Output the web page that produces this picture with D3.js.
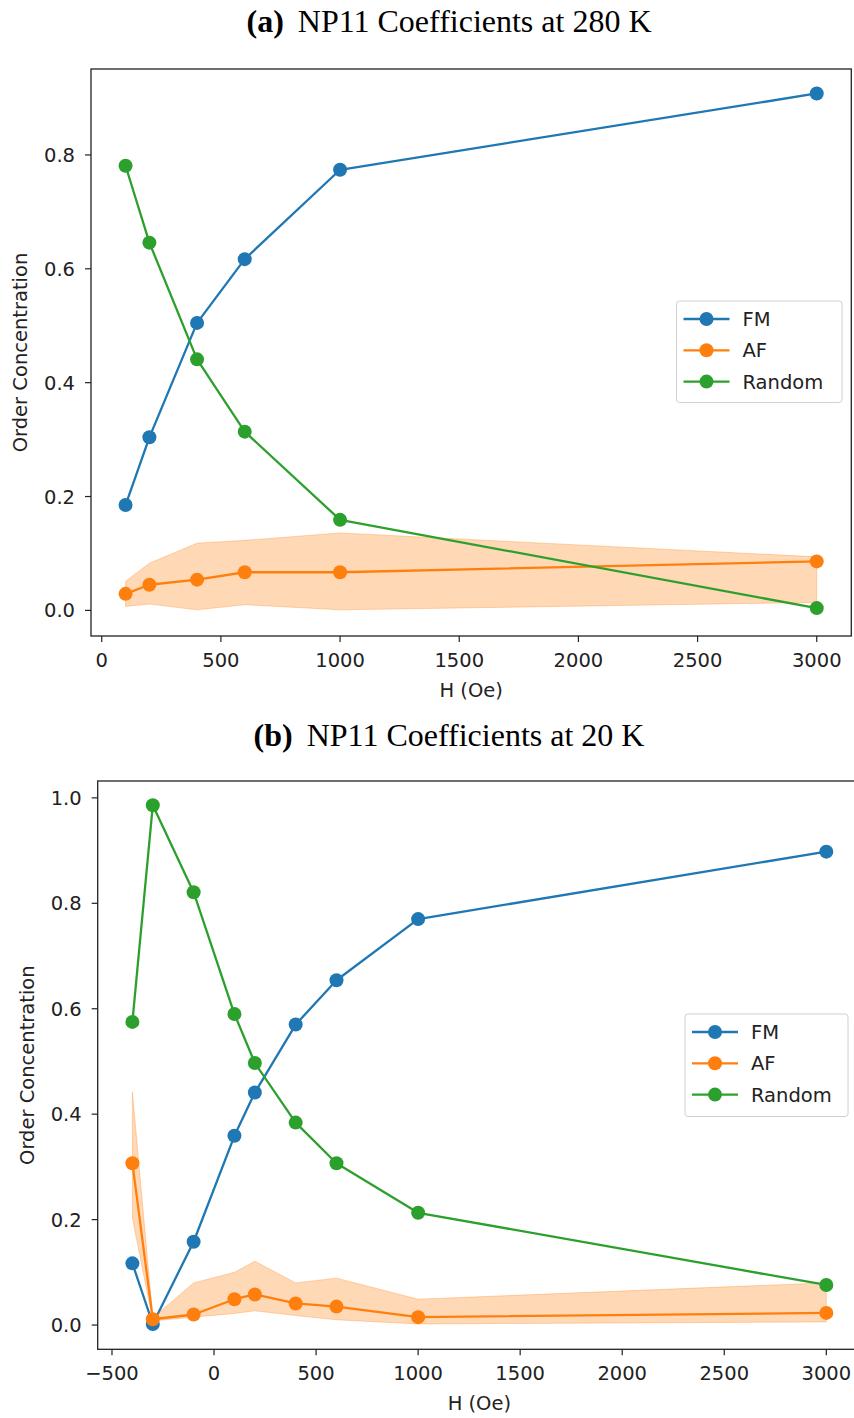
<!DOCTYPE html>
<html><head><meta charset="utf-8">
<script src="https://cdn.jsdelivr.net/npm/d3@7"></script>
<style>
html,body{margin:0;padding:0;background:#fff;}
svg{display:block;}
text{font-family:"DejaVu Sans",sans-serif;fill:#222;}
</style></head>
<body>
<svg id="chart" width="854" height="1418"></svg>
<script>
// ---- Data: panel (a) 280 K ----
const xA = [100, 200, 400, 600, 1000, 3000];
const fmA = [0.185, 0.304, 0.505, 0.617, 0.774, 0.908];
const afA = [0.029, 0.045, 0.054, 0.067, 0.067, 0.086];
const afLoA = [0.007, 0.011, 0.001, 0.010, 0.001, 0.014];
const afHiA = [0.051, 0.083, 0.118, 0.123, 0.136, 0.094];
const rndA = [0.781, 0.646, 0.441, 0.314, 0.159, 0.004];
const xTicksA = [0, 500, 1000, 1500, 2000, 2500, 3000];
const yTicksA = [0.0, 0.2, 0.4, 0.6, 0.8];

// ---- Data: panel (b) 20 K ----
const xB = [-400, -300, -100, 100, 200, 400, 600, 1000, 3000];
const fmB = [0.117, 0.002, 0.158, 0.359, 0.441, 0.570, 0.654, 0.770, 0.898];
const afB = [0.307, 0.011, 0.020, 0.049, 0.058, 0.041, 0.035, 0.015, 0.023];
const afLoB = [0.203, 0.008, 0.015, 0.022, 0.027, 0.018, 0.010, 0.002, 0.006];
const afHiB = [0.442, 0.014, 0.080, 0.100, 0.121, 0.080, 0.089, 0.049, 0.080];
const rndB = [0.575, 0.986, 0.821, 0.590, 0.497, 0.384, 0.307, 0.213, 0.076];
const xTicksB = [-500, 0, 500, 1000, 1500, 2000, 2500, 3000];
const yTicksB = [0.0, 0.2, 0.4, 0.6, 0.8, 1.0];

const seriesNames = ["FM", "AF", "Random"];
const colors = ["#1f77b4", "#ff7f0e", "#2ca02c"];
const FS = "19.5px";

const svg = d3.select("#chart");

function title(y, label, rest) {
  const t = svg.append("text")
    .attr("x", 449).attr("y", y)
    .attr("text-anchor", "middle")
    .style("font-family", "'Liberation Serif', 'Times New Roman', serif")
    .style("font-size", "32px").style("fill", "#000");
  t.append("tspan").style("font-weight", "bold").text(label);
  t.append("tspan").attr("dx", "14").text(rest);
}

function panel(cfg) {
  const {id, left, right, top, bottom, xDom, yDom, xs, fm, af, lo, hi, rnd, xTicks, yTicks, legend} = cfg;
  const x = d3.scaleLinear().domain(xDom).range([left, right]);
  const y = d3.scaleLinear().domain(yDom).range([bottom, top]);
  const g = svg.append("g");

  const clipId = "clip" + id;
  g.append("clipPath").attr("id", clipId).append("rect")
    .attr("x", left).attr("y", top).attr("width", right - left).attr("height", bottom - top);

  const plot = g.append("g").attr("clip-path", `url(#${clipId})`);
  const line = d3.line().x(d => x(d[0])).y(d => y(d[1]));

  function drawSeries(vals, color) {
    const pts = xs.map((v, i) => [v, vals[i]]);
    plot.append("path").datum(pts).attr("d", line)
      .attr("fill", "none").attr("stroke", color).attr("stroke-width", 2.3)
      .attr("stroke-linejoin", "round");
    plot.selectAll(null).data(pts).enter().append("circle")
      .attr("cx", d => x(d[0])).attr("cy", d => y(d[1])).attr("r", 7)
      .attr("fill", color);
  }

  drawSeries(fm, colors[0]);
  const area = d3.area().x((d, i) => x(xs[i])).y0((d, i) => y(lo[i])).y1((d, i) => y(hi[i]));
  plot.append("path").datum(xs).attr("d", area)
    .attr("fill", colors[1]).attr("fill-opacity", 0.3)
    .attr("stroke", colors[1]).attr("stroke-opacity", 0.3).attr("stroke-width", 1);
  drawSeries(af, colors[1]);
  drawSeries(rnd, colors[2]);

  // frame
  g.append("rect").attr("x", left).attr("y", top).attr("width", right - left).attr("height", bottom - top)
    .attr("stroke", "#222").attr("stroke-width", 1.3).attr("fill", "none");

  // x axis
  xTicks.forEach(t => {
    g.append("line").attr("x1", x(t)).attr("x2", x(t)).attr("y1", bottom).attr("y2", bottom + 6)
      .attr("stroke", "#222").attr("stroke-width", 1.2);
    g.append("text").attr("x", x(t)).attr("y", bottom + 31).attr("text-anchor", "middle")
      .style("font-size", FS).text(t < 0 ? "\u2212" + Math.abs(t) : String(t));
  });
  g.append("text").attr("x", (left + right) / 2).attr("y", bottom + 61)
    .attr("text-anchor", "middle").style("font-size", FS).text("H (Oe)");

  // y axis
  yTicks.forEach(t => {
    g.append("line").attr("x1", left - 6).attr("x2", left).attr("y1", y(t)).attr("y2", y(t))
      .attr("stroke", "#222").attr("stroke-width", 1.2);
    g.append("text").attr("x", left - 16).attr("y", y(t) + 7).attr("text-anchor", "end")
      .style("font-size", FS).text(t.toFixed(1));
  });
  g.append("text")
    .attr("transform", `translate(${left - 64},${(top + bottom) / 2}) rotate(-90)`)
    .attr("text-anchor", "middle").style("font-size", FS).text("Order Concentration");

  // legend
  const lg = g.append("g");
  lg.append("rect").attr("x", legend.x).attr("y", legend.y).attr("width", legend.w).attr("height", legend.h)
    .attr("rx", 3).attr("fill", "#fff").attr("fill-opacity", 0.8)
    .attr("stroke", "#d0d0d0").attr("stroke-width", 1);
  seriesNames.forEach((name, i) => {
    const yy = legend.y + 18 + i * 31.3;
    lg.append("line").attr("x1", legend.x + 7).attr("x2", legend.x + 53).attr("y1", yy).attr("y2", yy)
      .attr("stroke", colors[i]).attr("stroke-width", 2.3);
    lg.append("circle").attr("cx", legend.x + 30).attr("cy", yy).attr("r", 7).attr("fill", colors[i]);
    lg.append("text").attr("x", legend.x + 66).attr("y", yy + 7).style("font-size", FS).text(name);
  });
}

title(32, "(a)", "NP11 Coefficients at 280 K");
panel({id: "a", left: 91, right: 851.3, top: 69, bottom: 636,
  xDom: [-45, 3145], yDom: [-0.045, 0.951],
  xs: xA, fm: fmA, af: afA, lo: afLoA, hi: afHiA, rnd: rndA,
  xTicks: xTicksA, yTicks: yTicksA,
  legend: {x: 676.5, y: 301, w: 165.5, h: 101.5}});

title(746, "(b)", "NP11 Coefficients at 20 K");
panel({id: "b", left: 97.7, right: 861, top: 781, bottom: 1349.3,
  xDom: [-570, 3170], yDom: [-0.046, 1.032],
  xs: xB, fm: fmB, af: afB, lo: afLoB, hi: afHiB, rnd: rndB,
  xTicks: xTicksB, yTicks: yTicksB,
  legend: {x: 685, y: 1014, w: 163, h: 102.5}});
</script>
</body></html>
